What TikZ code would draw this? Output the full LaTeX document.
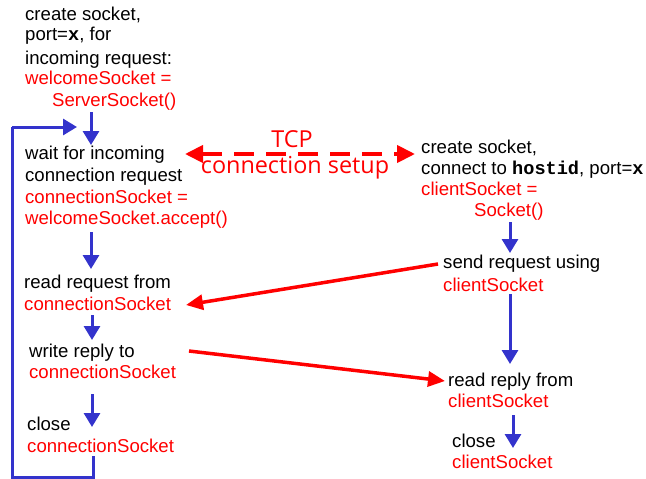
\documentclass[tikz,border=0pt]{standalone}
\usepackage{fontspec}
\setmainfont{Liberation Sans}
\newfontfamily\monob{Liberation Mono}[BoldFont={Liberation Mono Bold}]
\newfontfamily\tcpfont{Open Sans}
\usetikzlibrary{arrows.meta}
\definecolor{fblue}{RGB}{51,51,204}
\definecolor{fred}{RGB}{255,0,0}
\tikzset{
  txt/.style={anchor=base west, inner sep=0pt, font=\fontsize{18.6}{22}\selectfont, text=black},
  rtxt/.style={txt, text=fred},
  flow/.style={draw=fblue, line width=3pt, -{Triangle[length=14pt,width=16pt]}},
  flowline/.style={draw=fblue, line width=3pt},
  msg/.style={draw=fred, line width=3.5pt, -{Triangle[length=17pt,width=15pt]}},
  setup/.style={draw=fred, line width=4pt, dash pattern=on 20pt off 12pt,
    {Triangle[length=18pt,width=17pt]}-{Triangle[length=18pt,width=17pt]}},
  tcp/.style={inner sep=0pt, text=fred, font=\tcpfont\fontsize{23.4}{26}\selectfont}
}
\newcommand{\mb}[1]{{\monob\bfseries #1}}
\begin{document}
\begin{tikzpicture}[x=1pt,y=-1pt]
\useasboundingbox (0,0) rectangle (646,479);
% server side
\node[txt]  (a1) at (25,20.7) {create socket,};
\node[txt]  (a2) at (25,41) {port=\mb{x}, for};
\node[txt]  (a3) at (25,64) {incoming request:};
\node[rtxt] (a4) at (25,84) {welcomeSocket =};
\node[rtxt] (a5) at (52,106) {ServerSocket()};
\node[txt]  (b1) at (25,159) {wait for incoming};
\node[txt]  (b2) at (25,181) {connection request};
\node[rtxt] (b3) at (25,203) {connectionSocket =};
\node[rtxt] (b4) at (25,224) {welcomeSocket.accept()};
\node[txt]  (c1) at (24,288) {read request from};
\node[rtxt] (c2) at (24,310) {connectionSocket};
\node[txt]  (d1) at (29,357) {write reply to};
\node[rtxt] (d2) at (29,378) {connectionSocket};
\node[txt]  (e1) at (27,430) {close};
\node[rtxt] (e2) at (27,452) {connectionSocket};
% client side
\node[txt]  (f1) at (421,153) {create socket,};
\node[txt]  (f2) at (421,174) {connect to \mb{hostid}, port=\mb{x}};
\node[rtxt] (f3) at (421,195) {clientSocket =};
\node[rtxt] (f4) at (474,216) {Socket()};
\node[txt]  (g1) at (443,268) {send request using};
\node[rtxt] (g2) at (443,291) {clientSocket};
\node[txt]  (h1) at (448,386) {read reply from};
\node[rtxt] (h2) at (448,407) {clientSocket};
\node[txt]  (i1) at (452,447) {close};
\node[rtxt] (i2) at (452,468) {clientSocket};
% TCP label
\node[tcp, anchor=base] (tcp1) at (292,147) {TCP};
\node[tcp, anchor=base] (tcp2) at (295,173) {connection setup};
% connector end points
\coordinate (sA) at (91,112);   \coordinate (tB) at (91,145);
\coordinate (sB) at (91,232);   \coordinate (tC) at (91,269);
\coordinate (sC) at (92,315);   \coordinate (tD) at (92,340);
\coordinate (sD) at (92,394);   \coordinate (tE) at (92,427);
\coordinate (sE) at (93,456);   \coordinate (l1) at (93,477);
\coordinate (l2) at (12,477);   \coordinate (l3) at (12,127);
\coordinate (tL) at (77,127);
\coordinate (sF) at (510,222);  \coordinate (tG) at (510,253);
\coordinate (sG) at (510,294);  \coordinate (tH) at (510,364);
\coordinate (sH) at (513,415);  \coordinate (tI) at (513,448);
\coordinate (sR) at (438,264);  \coordinate (tR) at (186,305);
\coordinate (sW) at (189,351);  \coordinate (tW) at (445,381);
\coordinate (kL) at (185,154);  \coordinate (kR) at (415,154);
% blue flow
\draw[flow] (sA) -- (tB);
\draw[flow] (sB) -- (tC);
\draw[flow] (sC) -- (tD);
\draw[flow] (sD) -- (tE);
\draw[flowline] (sE) -- (l1) -- (l2) -- (l3);
\draw[flow] (l3) -- (tL);
\draw[flow] (sF) -- (tG);
\draw[flow] (sG) -- (tH);
\draw[flow] (sH) -- (tI);
% red messages
\draw[msg] (sR) -- (tR);
\draw[msg] (sW) -- (tW);
\draw[setup] (kL) -- (kR);
\end{tikzpicture}
\end{document}
